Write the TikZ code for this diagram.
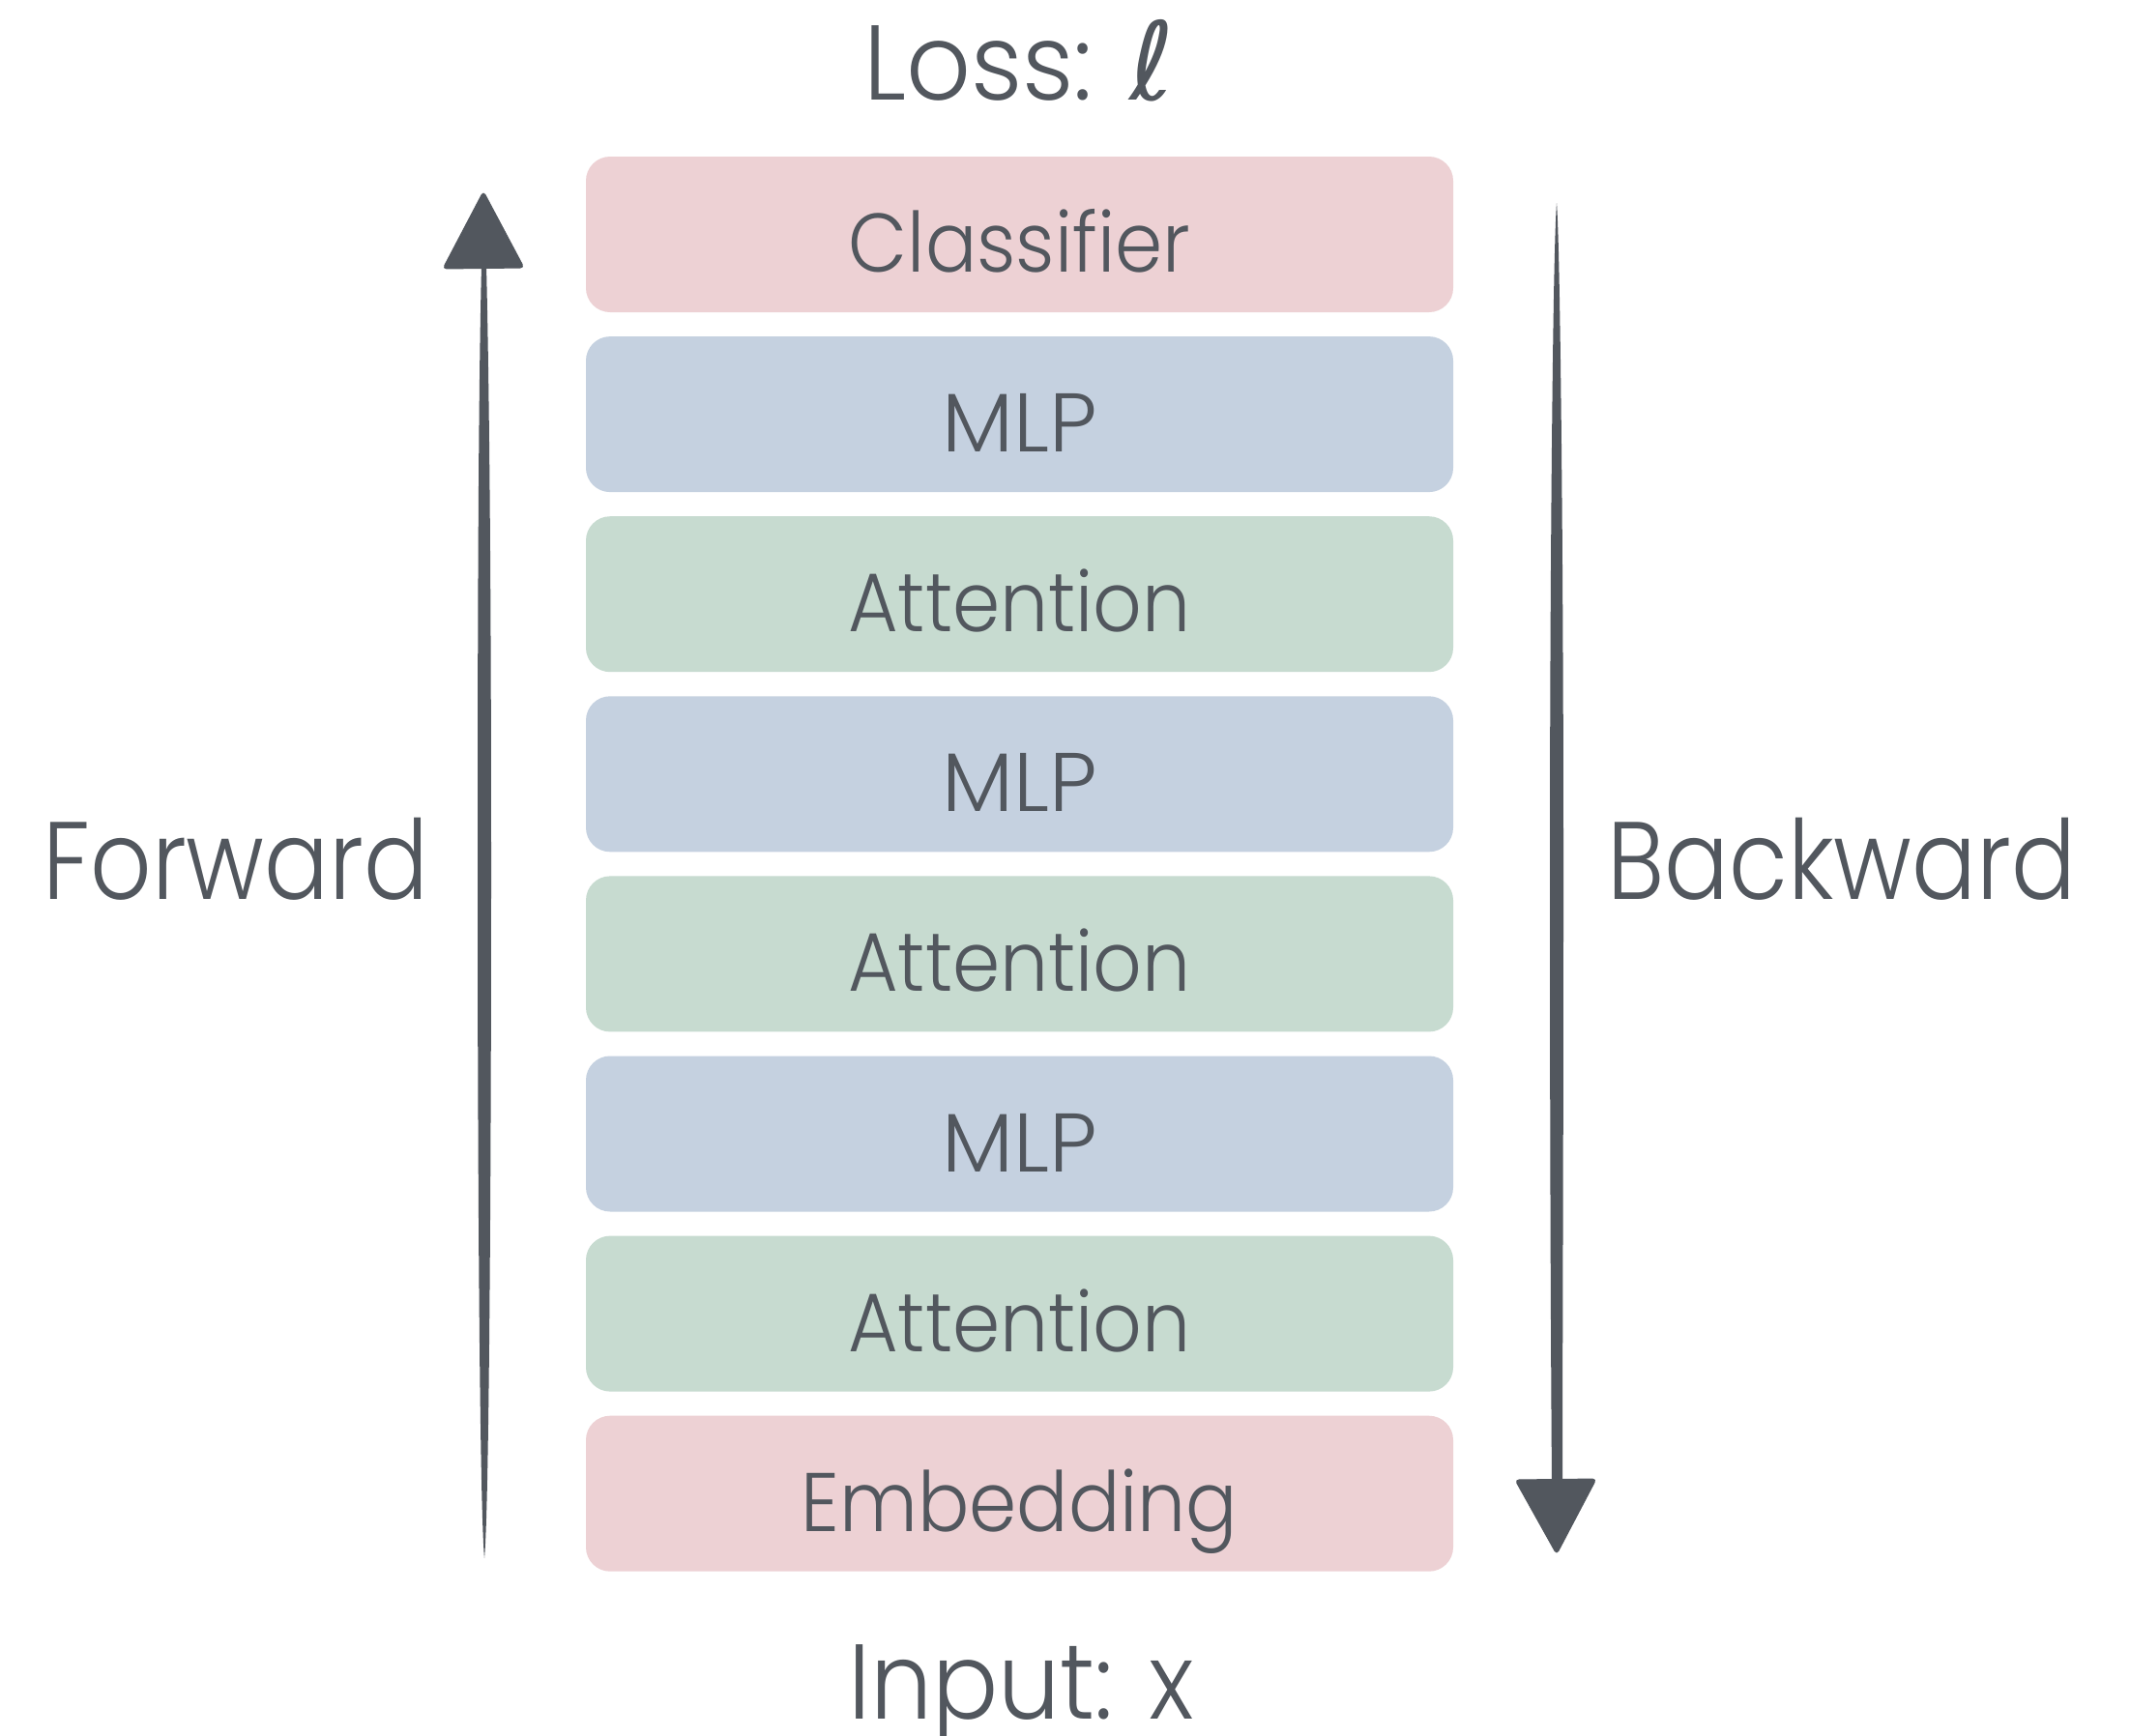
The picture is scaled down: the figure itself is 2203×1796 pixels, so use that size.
\documentclass[tikz,border=0pt]{standalone}
\usepackage{fontspec}
\setmainfont{Poppins}[UprightFont=* Light, FakeStretch=0.92]
\newfontfamily\widefont{Poppins}[UprightFont=* Light, FakeStretch=1.02]
\newfontfamily\sidefont{Poppins}[UprightFont=* Light, FakeStretch=0.87]
\newfontfamily\lossfont{Poppins}[UprightFont=* Light, FakeStretch=0.95]
\newfontfamily\ellfont{DejaVu Sans}
\definecolor{ink}{HTML}{52575E}
\definecolor{pinkbox}{HTML}{EDD1D4}
\definecolor{bluebox}{HTML}{C5D1E0}
\definecolor{greenbox}{HTML}{C7DBD0}
\begin{document}
\begin{tikzpicture}[x=1pt,y=-1pt,
  layer/.style={rectangle, rounded corners=25pt, minimum width=897pt, minimum height=161pt,
    inner sep=0pt, text=ink, text height=80pt, text depth=2pt, font=\fontsize{86}{90}\selectfont},
  pinklayer/.style={layer, fill=pinkbox},
  bluelayer/.style={layer, fill=bluebox, font=\widefont\fontsize{86}{90}\selectfont},
  greenlayer/.style={layer, fill=greenbox},
  biglabel/.style={text=ink, inner sep=0pt, anchor=base, font=\fontsize{110}{120}\selectfont},
  sidelabel/.style={text=ink, inner sep=0pt, anchor=base, font=\sidefont\fontsize{114}{120}\selectfont},
  brush/.style={fill=ink, draw=ink, line width=1pt, line join=round}]
\useasboundingbox (0,0) rectangle (2203,1796);
\fill[white] (0,0) rectangle (2203,1796);

\node[pinklayer]  (cls)  at (1054.5, 242.5) {Classifier};
\node[bluelayer]  (mlp3) at (1054.5, 428.6) {MLP};
\node[greenlayer] (att3) at (1054.5, 614.7) {Attention};
\node[bluelayer]  (mlp2) at (1054.5, 800.8) {MLP};
\node[greenlayer] (att2) at (1054.5, 986.9) {Attention};
\node[bluelayer]  (mlp1) at (1054.5, 1173.0) {MLP};
\node[greenlayer] (att1) at (1054.5, 1359.1) {Attention};
\node[pinklayer]  (emb)  at (1054.5, 1545.2) {Embedding};

\node[biglabel] (loss)  at (1054, 103) {\lossfont Loss: {\ellfont\fontsize{112}{120}\selectfont ℓ}};
\node[biglabel] (input) at (1056, 1778) {Input: x};
\node[sidelabel] (fwd) at (244, 930) {Forward};
\node[sidelabel] (bwd) at (1905, 930) {Backward};

% forward arrow
\coordinate (fwdTail) at (501,1612);
\coordinate (fwdTip) at (500,198);
\fill[ink] (fwdTail) .. controls (496,1560) and (494,1200) .. (494,900)
  .. controls (494,600) and (495,400) .. (498,275) -- (503,275)
  .. controls (506,400) and (508,600) .. (508,900)
  .. controls (508,1200) and (506,1560) .. (fwdTail) -- cycle;
\filldraw[brush, rounded corners=4pt] (fwdTip) -- (542,277) -- (458,278) -- cycle;

% backward arrow
\coordinate (bwdTail) at (1610,210);
\coordinate (bwdTip) at (1610,1608);
\fill[ink] (bwdTail) .. controls (1606,260) and (1603,600) .. (1603,900)
  .. controls (1603,1200) and (1604,1400) .. (1605,1535) -- (1616,1535)
  .. controls (1616,1400) and (1617,1200) .. (1617,900)
  .. controls (1617,600) and (1614,260) .. (bwdTail) -- cycle;
\filldraw[brush, rounded corners=4pt] (bwdTip) -- (1567,1531) -- (1651,1530) -- cycle;
\end{tikzpicture}
\end{document}
